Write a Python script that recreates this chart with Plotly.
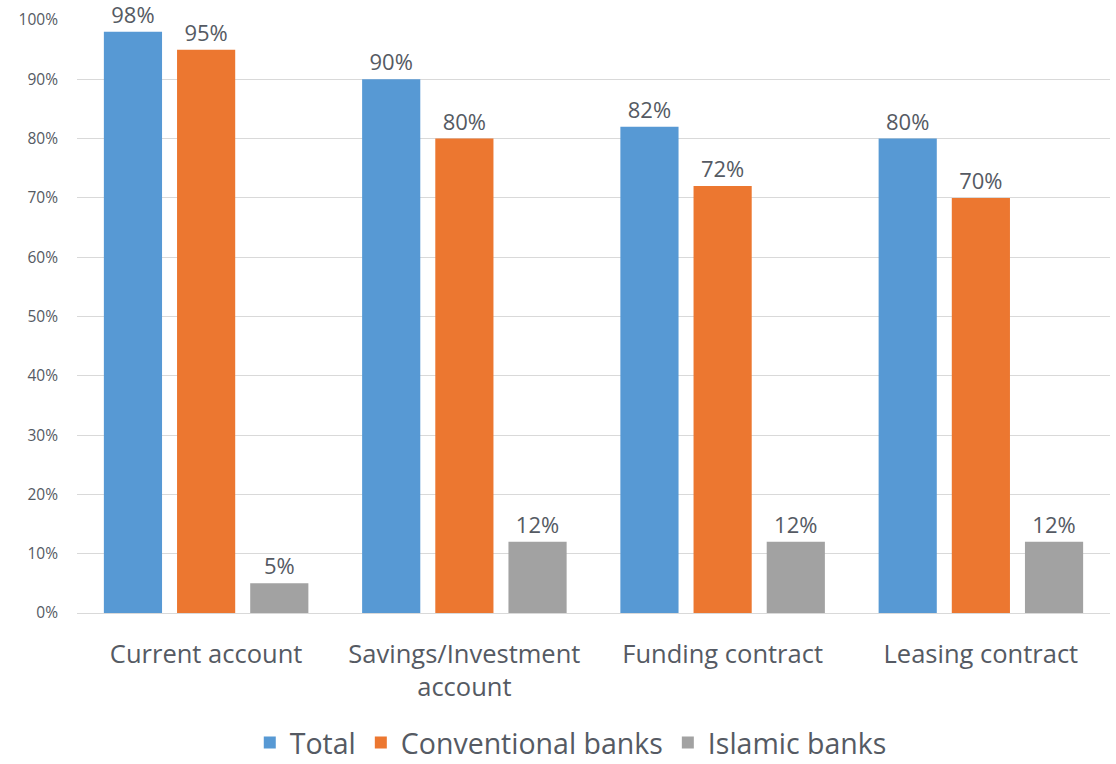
import plotly.graph_objects as go

categories = ["Current account", "Savings/Investment<br>account", "Funding contract", "Leasing contract"]
total = [98, 90, 82, 80]
conventional = [95, 80, 72, 70]
islamic = [5, 12, 12, 12]
series_names = ["Total", "Conventional banks", "Islamic banks"]
colors = ["#5799d4", "#ec7730", "#a2a2a2"]
y_ticks = list(range(0, 101, 10))
y_tick_labels = [f"{v}%" for v in y_ticks]

FONT = "'Open Sans', sans-serif"
TXT = "#555a63"

fig = go.Figure()
for name, vals, col in zip(series_names, [total, conventional, islamic], colors):
    fig.add_trace(go.Bar(
        x=categories, y=vals, name=name,
        marker=dict(color=col, line=dict(width=0)),
        text=[f"{v}%" for v in vals], textposition="outside",
        textfont=dict(size=22, color=TXT, family=FONT),
        cliponaxis=False,
    ))

fig.update_layout(
    width=1116, height=764,
    margin=dict(l=77, r=6, t=20, b=151, autoexpand=False),
    paper_bgcolor="white", plot_bgcolor="white",
    barmode="group", bargap=0.15, bargroupgap=0.205,
    font=dict(family=FONT, color=TXT),
    showlegend=True,
    legend=dict(orientation="h", x=0.478, xanchor="center", y=-0.176, yanchor="top",
                font=dict(size=28.5, color=TXT, family=FONT),
                traceorder="normal"),
)
fig.update_xaxes(showgrid=False, showline=False, ticks="",
                 tickfont=dict(size=25.5, color=TXT, family=FONT), ticklabelstandoff=23)
fig.update_yaxes(range=[0, 100], tickmode="array", tickvals=y_ticks, ticktext=y_tick_labels,
                 showgrid=True, gridcolor="#d9d9d9", gridwidth=1,
                 zeroline=True, zerolinecolor="#d9d9d9", zerolinewidth=1,
                 showline=False, ticks="",
                 tickfont=dict(size=15.5, color=TXT, family=FONT), ticklabelstandoff=18)

fig.write_html("out.html")
